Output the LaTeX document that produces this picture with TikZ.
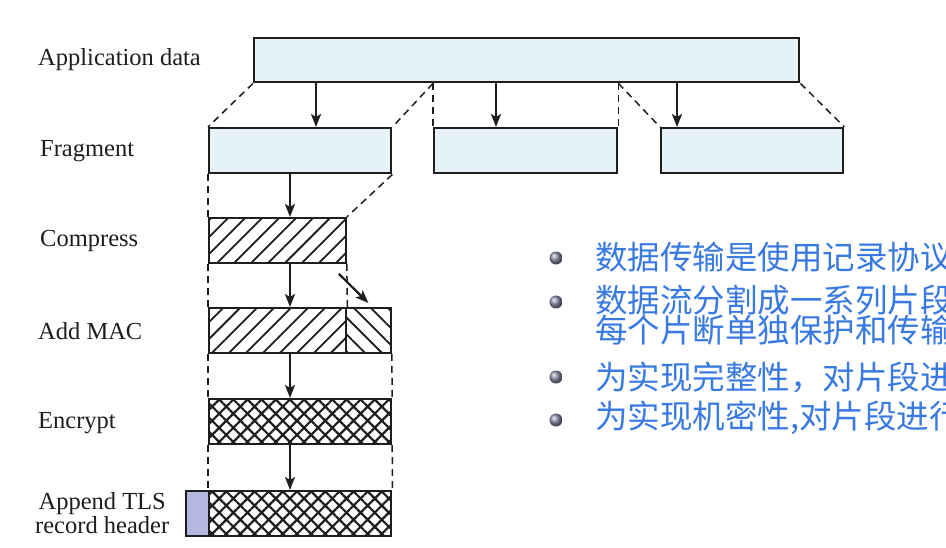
\documentclass[tikz,border=0pt]{standalone}
\usepackage{fontspec}
\setmainfont{Liberation Serif}
\newfontfamily\cjk{Noto Sans CJK SC}
\usetikzlibrary{arrows.meta,patterns.meta,calc}
\definecolor{boxfill}{RGB}{229,242,247}
\definecolor{hdrfill}{RGB}{180,184,222}
\definecolor{txtblue}{RGB}{56,122,226}
\definecolor{bulletc}{RGB}{140,144,172}
\definecolor{ink}{RGB}{30,30,30}
\begin{document}
\begin{tikzpicture}[x=1pt,y=-1pt,
  blk/.style={draw=ink, line width=2.4pt, anchor=north west, inner sep=0pt, minimum height=45pt},
  plain/.style={blk, fill=boxfill},
  nehatch/.style={blk, pattern={Lines[angle=45,distance=12pt,line width=1.8pt]}, pattern color=ink},
  nwhatch/.style={blk, pattern={Lines[angle=-45,distance=12pt,line width=1.8pt]}, pattern color=ink},
  xhatch/.style={blk, pattern={Hatch[angle=45,distance=10pt,line width=2.2pt]}, pattern color=ink},
  lbl/.style={anchor=west, inner sep=0pt, text=ink, font=\fontsize{24.5}{24}\selectfont, align=left},
  zh/.style={anchor=west, inner sep=0pt, text=txtblue, font=\cjk\fontsize{32.5}{32.5}\selectfont},
  dsh/.style={draw=ink, line width=1.5pt, dash pattern=on 7pt off 5pt},
  arr/.style={draw=ink, line width=2.2pt, -{Stealth[length=13pt,width=10pt,inset=3pt]}},
  bul/.style={circle, inner sep=0pt, minimum size=13pt, ball color=bulletc}
]
\useasboundingbox (0,0) rectangle (946,548);
\clip (0,0) rectangle (946,548);
\fill[white] (0,0) rectangle (946,548);

% boxes
\node[plain, minimum width=545pt, minimum height=44pt] (app) at (253,37) {};
\node[plain, minimum width=182pt] (f1) at (208,127) {};
\node[plain, minimum width=183pt] (f2) at (433,127) {};
\node[plain, minimum width=182pt] (f3) at (660,127) {};
\node[nehatch, minimum width=137pt] (comp) at (208,217) {};
\node[nehatch, minimum width=137pt] (mac1) at (208,307) {};
\node[nwhatch, minimum width=45pt] (mac2) at (345,307) {};
\node[xhatch, minimum width=182pt] (enc) at (208,398) {};
\node[blk, fill=hdrfill, minimum width=23pt] (hdr) at (185,490) {};
\node[xhatch, minimum width=182pt] (rec) at (208,490) {};

% labels
\node[lbl] (lapp) at (38,60) {Application data};
\node[lbl] (lfrag) at (40,151) {Fragment};
\node[lbl] (lcomp) at (40,241) {Compress};
\node[lbl] (lmac) at (38,331) {Add MAC};
\node[lbl] (lenc) at (38,423) {Encrypt};
\node[lbl, align=center] (lapp2) at (35,513) {Append TLS\\record header};

% dashed guides
\draw[dsh] (app.south west) -- (f1.north west);
\draw[dsh] (f2.north west |- app.south) -- (f1.north east);
\draw[dsh] (f2.north west |- app.south) -- (f2.north west);
\draw[dsh] (f2.north east |- app.south) -- (f2.north east);
\draw[dsh] (f2.north east |- app.south) -- (f3.north west);
\draw[dsh] (app.south east) -- (f3.north east);
\draw[dsh] (f1.south west) -- (comp.north west);
\draw[dsh] (f1.south east) -- (comp.north east);
\draw[dsh] (comp.south west) -- (mac1.north west);
\draw[dsh] (comp.south east) -- (mac1.north east);
\draw[dsh] (mac1.south west) -- (enc.north west);
\draw[dsh] (mac2.south east) -- (enc.north east);
\draw[dsh] (enc.south west) -- (rec.north west);
\draw[dsh] (enc.south east) -- (rec.north east);

% arrows
\coordinate (t1) at (316,0);
\coordinate (t2) at (496,0);
\coordinate (t3) at (677,0);
\coordinate (c) at (290,0);
\draw[arr] (t1 |- app.south) -- (t1 |- f1.north);
\draw[arr] (t2 |- app.south) -- (t2 |- f2.north);
\draw[arr] (t3 |- app.south) -- (t3 |- f3.north);
\draw[arr] (c |- f1.south) -- (c |- comp.north);
\draw[arr] (c |- comp.south) -- (c |- mac1.north);
\draw[arr] (c |- mac1.south) -- (c |- enc.north);
\draw[arr] (c |- enc.south) -- (c |- rec.north);
\draw[arr] ($(comp.south east)+(-8,10)$) -- ($(mac2.north)+(0,-4)$);

% right text
\node[bul] (b1) at (556,258) {};
\node[bul] (b2) at (556,302) {};
\node[bul] (b3) at (556,377) {};
\node[bul] (b4) at (556,420) {};
\node[zh] (z1) at (595,257) {数据传输是使用记录协议};
\node[zh] (z2) at (595,300) {数据流分割成一系列片段};
\node[zh] (z3) at (595,330) {每个片断单独保护和传输};
\node[zh] (z4) at (595,377) {为实现完整性，对片段进};
\node[zh] (z5) at (595,418) {为实现机密性,对片段进行};
\end{tikzpicture}
\end{document}
